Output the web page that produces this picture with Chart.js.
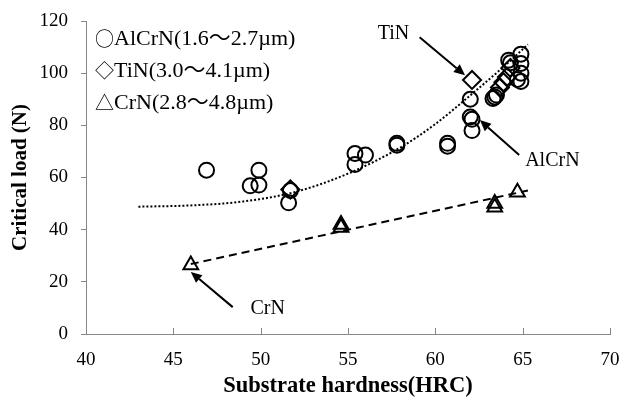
<!DOCTYPE html>
<html>
<head>
<meta charset="utf-8">
<script src="https://cdn.jsdelivr.net/npm/chart.js@4/dist/chart.umd.min.js"></script>
<style>
	html, body { margin: 0; padding: 0; background: #fff; }
	#wrap { width: 621px; height: 397px; }
</style>
</head>
<body>
<div id="wrap"><canvas id="cvs" width="621" height="397"></canvas></div>
<script>
// values
var alcrnX = [46.9, 49.4, 49.9, 49.9, 51.6, 51.7, 55.4, 55.4, 56.0, 57.8, 57.8, 60.7, 60.7, 62.0, 62.0, 62.1, 62.1, 63.3, 63.4, 63.5, 64.2, 64.3, 64.7, 64.9, 64.9, 64.9, 64.9];
var alcrnY = [62.8, 56.8, 62.8, 57.1, 50.3, 55.0, 69.2, 65.0, 68.6, 73.1, 72.4, 73.1, 72.0, 90.0, 83.2, 82.3, 78.0, 90.3, 90.9, 91.6, 105.0, 104.0, 97.6, 107.3, 103.7, 100.0, 96.8];
var tinX = [51.7, 62.1, 63.7, 63.9, 64.1, 64.3];
var tinY = [55.4, 97.4, 94.5, 96.5, 98.5, 102.0];
var crnX = [46.0, 54.6, 54.6, 63.4, 63.4, 64.7];
var crnY = [26.5, 42.0, 40.8, 50.0, 48.6, 54.3];
// trend lines as they appear
var trendX = [43, 46, 49, 52, 55, 58, 60, 62, 64, 65.3];
var trendY = [48.8, 49.3, 50.8, 54.5, 61.5, 71.5, 80.5, 91.5, 103, 111];
var crnFitX = [46.0, 65.3];
var crnFitY = [26.8, 55.0];

var legendSymbols = ["\u25CB", "\u25C7", "\u25B3"];
var legendTexts = ["AlCrN(1.6\u301C2.7\u00B5m)", "TiN(3.0\u301C4.1\u00B5m)", "CrN(2.8\u301C4.8\u00B5m)"];
// annotations: label, text pos, arrow tail, arrow head (data units)
var notes = [
	{text: "TiN", x: 57.6, y: 115.3, x1: 59.1, y1: 113.8, x2: 61.7, y2: 99.2},
	{text: "AlCrN", x: 66.7, y: 66.3, x1: 64.8, y1: 68.6, x2: 62.55, y2: 82.0},
	{text: "CrN", x: 50.4, y: 9.6, x1: 48.4, y1: 10.3, x2: 46.0, y2: 23.8}
];

function pts(xs, ys) {
	let out = [];
	for (let i in xs) out.push({x: xs[i], y: ys[i]});
	return out;
}

var serif = "'Liberation Serif', 'Noto Sans CJK JP', serif";

var extras = {
	id: "extras",
	afterDraw(chart) {
		let ctx = chart.ctx;
		let xs = chart.scales.x, ys = chart.scales.y;
		let area = chart.chartArea;
		ctx.save();
		// inside ticks on x axis
		ctx.strokeStyle = "#868686";
		ctx.lineWidth = 1;
		for (let t of xs.ticks) {
			let px = Math.round(xs.getPixelForValue(t.value)) + 0.5;
			ctx.beginPath();
			ctx.moveTo(px, area.bottom);
			ctx.lineTo(px, area.bottom - 6);
			ctx.stroke();
		}
		// legend
		ctx.fillStyle = "#000";
		ctx.textBaseline = "middle";
		ctx.textAlign = "left";
		for (let i = 0; i < legendTexts.length; i++) {
			let ly = area.top + 18 + i * 32;
			ctx.font = "19px 'Noto Sans CJK JP'";
			ctx.fillText(legendSymbols[i], area.left + 9, ly);
			ctx.font = "22px " + serif;
			ctx.fillText(legendTexts[i], area.left + 28, ly);
		}
		// arrows + labels
		ctx.font = "20px " + serif;
		ctx.textAlign = "center";
		ctx.lineWidth = 2;
		ctx.strokeStyle = "#000";
		for (let n of notes) {
			ctx.fillText(n.text, xs.getPixelForValue(n.x), ys.getPixelForValue(n.y));
			let ax = xs.getPixelForValue(n.x1), ay = ys.getPixelForValue(n.y1);
			let bx = xs.getPixelForValue(n.x2), by = ys.getPixelForValue(n.y2);
			let ang = Math.atan2(by - ay, bx - ax);
			let hl = 11, hw = 5;
			let cx = bx - hl * Math.cos(ang), cy = by - hl * Math.sin(ang);
			ctx.beginPath();
			ctx.moveTo(ax, ay);
			ctx.lineTo(cx, cy);
			ctx.stroke();
			ctx.beginPath();
			ctx.moveTo(bx, by);
			ctx.lineTo(cx + hw * Math.sin(ang), cy - hw * Math.cos(ang));
			ctx.lineTo(cx - hw * Math.sin(ang), cy + hw * Math.cos(ang));
			ctx.closePath();
			ctx.fill();
		}
		ctx.restore();
	}
};

var config = {
	type: "scatter",
	data: {
		datasets: [
			{
				label: "trend",
				data: pts(trendX, trendY),
				showLine: true,
				borderColor: "#000",
				borderWidth: 2,
				borderDash: [2, 2],
				cubicInterpolationMode: "monotone",
				pointRadius: 0,
				fill: false
			},
			{
				label: "crnfit",
				data: pts(crnFitX, crnFitY),
				showLine: true,
				borderColor: "#000",
				borderWidth: 2,
				borderDash: [8, 5],
				pointRadius: 0,
				fill: false
			},
			{
				label: "AlCrN",
				data: pts(alcrnX, alcrnY),
				pointStyle: "circle",
				pointRadius: 7.5,
				borderColor: "#000",
				borderWidth: 2,
				backgroundColor: "rgba(0,0,0,0)"
			},
			{
				label: "TiN",
				data: pts(tinX, tinY),
				pointStyle: "rectRot",
				pointRadius: 9,
				borderColor: "#000",
				borderWidth: 2,
				backgroundColor: "rgba(255,255,255,0)"
			},
			{
				label: "CrN",
				data: pts(crnX, crnY),
				pointStyle: "triangle",
				pointRadius: 8.5,
				borderColor: "#000",
				borderWidth: 2,
				backgroundColor: "rgba(255,255,255,0)"
			}
		]
	},
	options: {
		responsive: false,
		animation: false,
		layout: {padding: {left: 0, top: 21, right: 11, bottom: 0}},
		plugins: {
			legend: false,
			tooltip: {enabled: false}
		},
		scales: {
			x: {
				type: "linear",
				min: 40,
				max: 70,
				ticks: {stepSize: 5, color: "#000", font: {family: serif, size: 19}, padding: 15},
				grid: {display: false, drawTicks: false},
				border: {color: "#868686", width: 1},
				title: {display: true, text: "Substrate hardness(HRC)", color: "#000", font: {family: serif, size: 22.5, weight: "bold", lineHeight: 1}, padding: {top: 0, bottom: 0}},
				afterFit: function (s) { s.height = 63; s.paddingLeft = 0; s.paddingRight = 0; }
			},
			y: {
				min: 0,
				max: 120,
				ticks: {stepSize: 20, color: "#000", font: {family: serif, size: 19}, padding: 13},
				grid: {display: true, drawOnChartArea: false, drawTicks: true, tickLength: 5, color: "#868686"},
				border: {color: "#868686", width: 1},
				title: {display: true, text: "Critical load (N)", color: "#000", font: {family: serif, size: 21, weight: "bold"}, padding: {top: 8, bottom: 4}},
				afterFit: function (s) { s.width = 86; s.paddingTop = 0; s.paddingBottom = 0; }
			}
		}
	},
	plugins: [extras]
};

var chart = new Chart("cvs", config);
</script>
</body>
</html>
